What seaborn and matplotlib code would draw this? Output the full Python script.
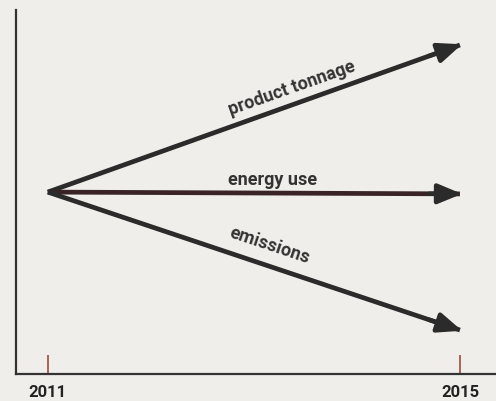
import matplotlib
matplotlib.use("Agg")
import matplotlib.pyplot as plt
import seaborn as sns
import pandas as pd

# values (arbitrary index, 0 = x axis)
years = [2011, 2015]
product_tonnage = [50.0, 90.4]
energy_use = [50.0, 49.5]
emissions = [50.0, 12.1]
tick_labels = ["2011", "2015"]

series = {
    "product tonnage": product_tonnage,
    "energy use": energy_use,
    "emissions": emissions,
}
df = pd.DataFrame(
    [(y, v, name) for name, vals in series.items() for y, v in zip(years, vals)],
    columns=["year", "value", "series"],
)

sns.set_style("white")
narrow = ["Roboto", "DejaVu Sans"]
plt.rcParams["font.family"] = narrow

paper = "#efeeea"
ink = "#2b2b2b"

fig = plt.figure(figsize=(4.96, 4.01), dpi=100, facecolor=paper)
ax = fig.add_axes([0.032, 0.067, 0.968, 0.908], facecolor=paper)

colors = {"product tonnage": ink, "energy use": "#3a2326", "emissions": ink}
sns.lineplot(data=df, x="year", y="value", hue="series", palette=colors,
             linewidth=3.4, legend=False, ax=ax, solid_capstyle="butt")

# arrowheads at the 2015 end of each line
for name, vals in series.items():
    x0, x1 = years
    y0, y1 = vals
    ax.annotate("", xy=(x1 + 0.02, y1 + (y1 - y0) * 0.02 / (x1 - x0)),
                xytext=(x1 - 0.3, y1 - (y1 - y0) * 0.3 / (x1 - x0)),
                arrowprops=dict(arrowstyle="-|>,head_length=1.45,head_width=0.6",
                                color=ink, lw=3.2, shrinkA=0, shrinkB=0))

lab = dict(fontsize=13, fontweight="bold", family=narrow,
           color="#333333", ha="center", va="center", rotation_mode="anchor")
ax.text(2013.37, 78.6, "product tonnage", rotation=19.5, **lab)
ax.text(2013.18, 53.3, "energy use", rotation=0, **lab)
ax.text(2013.15, 35.4, "emissions", rotation=-18.5, **lab)

ax.set_xlim(2010.69, 2015.35)
ax.set_ylim(0, 100)
ax.set_xticks(years)
ax.set_xticklabels(tick_labels, fontsize=12, fontweight="bold",
                   family=narrow, color="#222222")
ax.set_yticks([])
ax.tick_params(axis="x", bottom=True, direction="in", length=14, width=1.3,
               color="#a0594a", pad=8)
ax.set_xlabel("")
ax.set_ylabel("")

for s in ["top", "right"]:
    ax.spines[s].set_visible(False)
for s in ["left", "bottom"]:
    ax.spines[s].set_color("#333333")
    ax.spines[s].set_linewidth(1.6)

fig.savefig("out.png", dpi=100, facecolor=paper)
